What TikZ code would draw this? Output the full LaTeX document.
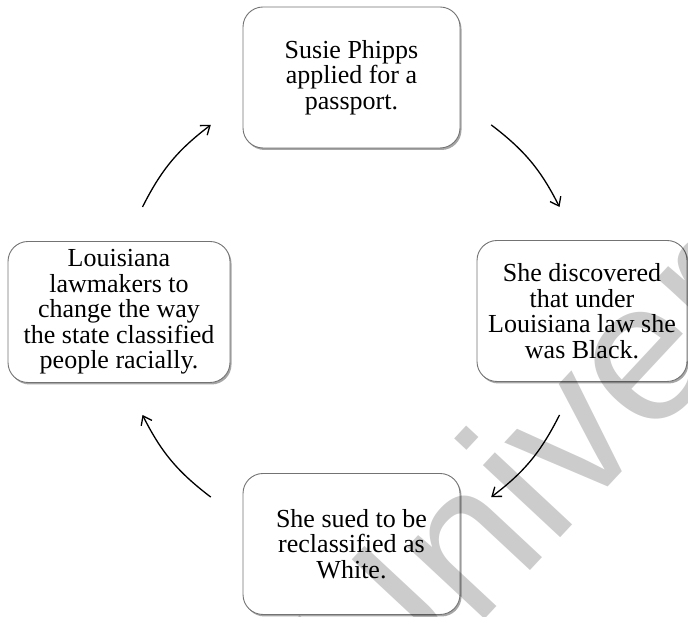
\documentclass[tikz,border=0pt]{standalone}
\usepackage{fontspec}
\setmainfont{Liberation Serif}
\newfontfamily\markfont{Liberation Sans}
\usetikzlibrary{shadows,arrows.meta}

\begin{document}
\begin{tikzpicture}[x=1pt,y=1pt,
  stepbox/.style={draw=black!55, line width=0.9pt, fill=white,
    rounded corners=20pt, minimum height=141pt, align=center, inner sep=0pt,
    font=\fontsize{26}{25.5}\selectfont,
    drop shadow={shadow xshift=1.5pt, shadow yshift=-2pt, opacity=0.35, fill=black}},
  cyc/.style={line width=1.3pt, -{Straight Barb[length=8pt,width=12pt,line width=1.3pt]}}]
\useasboundingbox (0,0) rectangle (688,617);

% the four stages of the cycle
\node[stepbox, minimum width=217pt] (top) at (351.5,539.5)
  {Susie Phipps\\applied for a\\passport.};
\node[stepbox, minimum width=210pt] (right) at (582,306)
  {She discovered\\that under\\Louisiana law she\\was Black.};
\node[stepbox, minimum width=217pt] (bottom) at (351.5,73)
  {She sued to be\\reclassified as\\White.};
\node[stepbox, minimum width=222pt] (left) at (119,305)
  {Louisiana\\lawmakers to\\change the way\\the state classified\\people racially.};

% arrow ends on a circle of radius 233 around (351,306)
\coordinate (a1s) at (491.2,492.1);
\coordinate (a1e) at (559.5,410.0);
\coordinate (a2s) at (559.5,202.0);
\coordinate (a2e) at (491.2,119.9);
\coordinate (a3s) at (210.8,119.9);
\coordinate (a3e) at (142.5,202.0);
\coordinate (a4s) at (142.5,410.0);
\coordinate (a4e) at (210.8,492.1);

\draw[cyc] (a1s) to[bend left=13] (a1e);
\draw[cyc] (a2s) to[bend left=13] (a2e);
\draw[cyc] (a3s) to[bend left=13] (a3e);
\draw[cyc] (a4s) to[bend left=13] (a4e);

% faint watermark across the lower right
\node[rotate=47, anchor=base west, opacity=0.2, inner sep=0pt,
  font=\markfont\fontsize{200}{200}\selectfont] (mark) at (377,-118) {University};
\end{tikzpicture}
\end{document}
